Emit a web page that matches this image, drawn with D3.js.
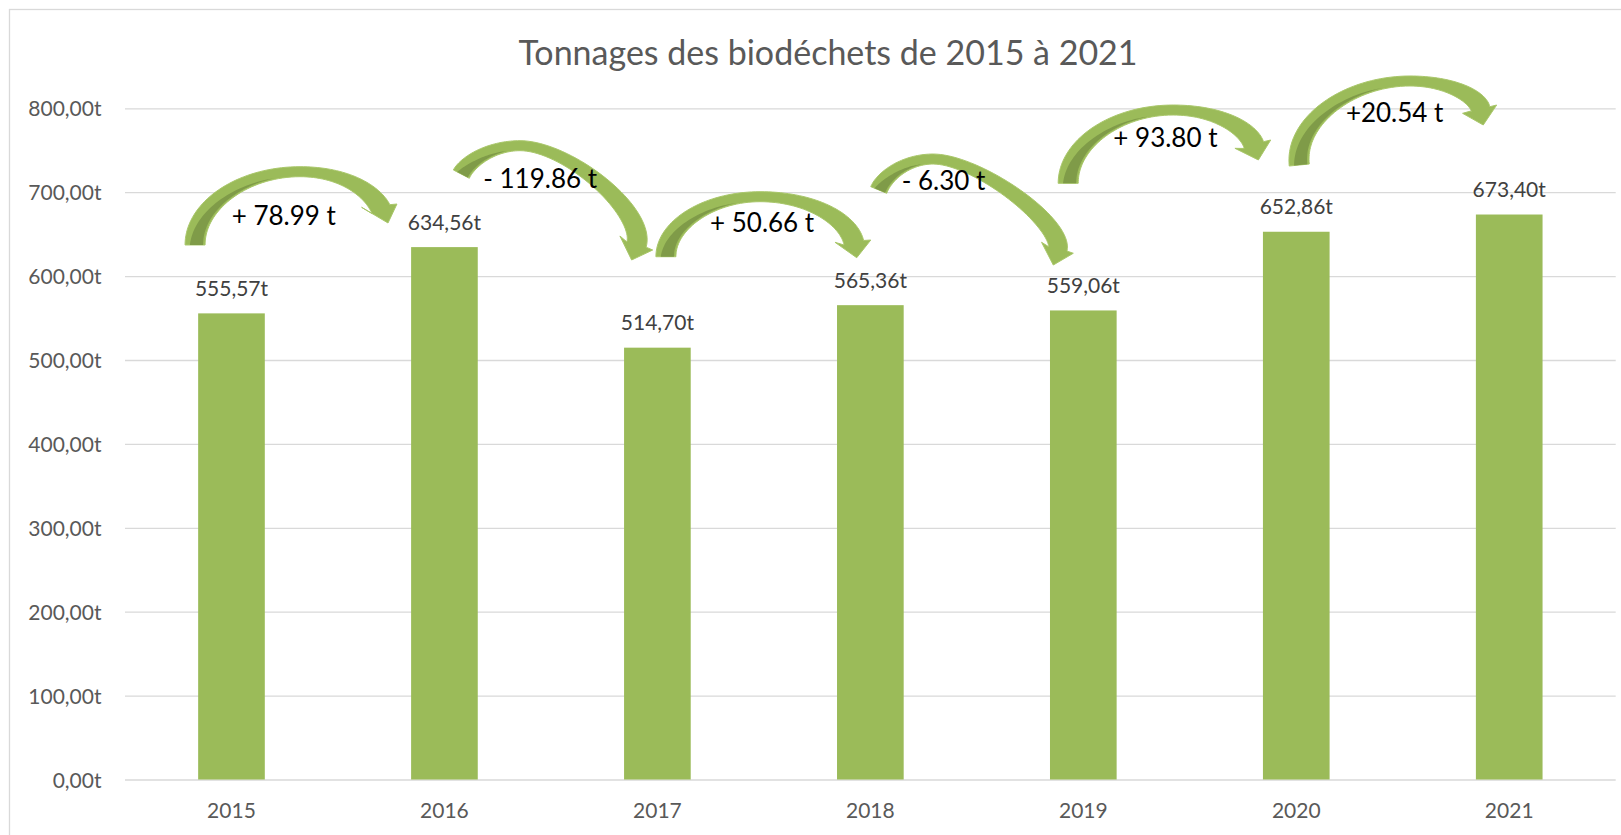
<!DOCTYPE html>
<html><head><meta charset="utf-8">
<script src="https://cdn.jsdelivr.net/npm/d3@7"></script>
<style>html,body{margin:0;padding:0;background:#fff;overflow:hidden}</style>
</head><body>
<svg id="chart" width="1621" height="835"></svg>
<script>
// ---- data ----
const title = "Tonnages des biodéchets de 2015 à 2021";
const years = ["2015","2016","2017","2018","2019","2020","2021"];
const tonnages = [555.57, 634.56, 514.70, 565.36, 559.06, 652.86, 673.40];
const valueLabels = ["555,57t","634,56t","514,70t","565,36t","559,06t","652,86t","673,40t"];
const yTicks = [0,100,200,300,400,500,600,700,800];
const yTickLabels = ["0,00t","100,00t","200,00t","300,00t","400,00t","500,00t","600,00t","700,00t","800,00t"];
const deltaLabels = ["+ 78.99 t","- 119.86 t","+ 50.66 t","- 6.30 t","+ 93.80 t","+20.54 t"];

// ---- annotation geometry, in chart units [category index, tonnes] ----
const arrowTailOuter = [[-0.218,637.1],[1.042,726.5],[1.993,623.1],[3.002,706.6],[3.882,710.6],[4.967,731.2]];
const arrowTailInner = [[-0.124,637.1],[1.117,716.6],[2.087,623.1],[3.077,698.7],[3.976,710.6],[5.061,733.6]];
const arrowApex      = [[0.322,730.4],[1.355,761.4],[2.482,700.6],[3.295,745.5],[4.422,803.9],[5.534,838.5]];
const arrowBarbIn    = [[0.611,682.0],[1.824,647.8],[2.834,640.3],[3.804,640.3],[4.712,752.3],[5.781,794.0]];
const arrowBarbOut   = [[0.777,685.9],[1.978,631.1],[3.002,643.0],[3.953,627.2],[4.880,762.2],[5.941,803.9]];
const arrowTip       = [[0.735,663.3],[1.879,619.2],[2.936,621.9],[3.859,613.2],[4.822,738.4],[5.878,780.1]];
const arrowBend      = [[0.55,0.55],[0.5,0.4],[0.55,0.55],[0.5,0.35],[0.55,0.55],[0.55,0.55]];
const deltaLabelPos  = [[0.001,660.9],[1.182,704.6],[2.247,652.9],[3.147,702.6],[4.141,753.5],[5.233,784.0]];

// ---- layout ----
const W = 1621, H = 835;
const plotLeft = 125, plotRight = 1615.7, plotBottom = 779.5, plotTop = 108.3;
const FONT = "Lato, 'Open Sans', sans-serif";
const BAR = "#9BBB59", DARK = "#7F9B48", GRID = "#d9d9d9";

const svg = d3.select("#chart");
svg.append("rect").attr("width",W).attr("height",H).attr("fill","#fff");
svg.append("rect").attr("x",9.5).attr("y",9.5).attr("width",W+20).attr("height",H+20)
  .attr("fill","none").attr("stroke",GRID).attr("stroke-width",1.3);

const x = d3.scaleBand().domain(years).range([plotLeft, plotRight])
  .paddingInner(0.687).paddingOuter(0.3435);
const y = d3.scaleLinear().domain([0,800]).range([plotBottom, plotTop]);

// y axis + gridlines
const yAxis = svg.append("g").attr("transform",`translate(${plotLeft},0)`)
  .call(d3.axisLeft(y).tickValues(yTicks).tickFormat((d,i)=>yTickLabels[i])
    .tickSize(-(plotRight-plotLeft)).tickPadding(23.5));
yAxis.select(".domain").remove();
yAxis.selectAll(".tick line").attr("stroke",GRID).attr("stroke-width",1.3);
yAxis.selectAll(".tick text").attr("fill","#595959").attr("font-family",FONT)
  .attr("font-size",21).attr("dy","0.36em");

// x axis
const xAxis = svg.append("g").attr("transform",`translate(0,${plotBottom})`)
  .call(d3.axisBottom(x).tickSize(0));
xAxis.select(".domain").remove();
xAxis.selectAll(".tick text").attr("fill","#595959").attr("font-family",FONT)
  .attr("font-size",21).attr("y",38.5).attr("dy",0);

// bars
svg.append("g").selectAll("rect").data(tonnages).join("rect")
  .attr("x",(d,i)=>x(years[i])).attr("width",x.bandwidth())
  .attr("y",d=>y(d)).attr("height",d=>y(0)-y(d)).attr("fill",BAR);

// value labels
svg.append("g").selectAll("text").data(tonnages).join("text")
  .attr("x",(d,i)=>x(years[i])+x.bandwidth()/2).attr("y",d=>y(d)-17.6)
  .attr("text-anchor","middle").attr("font-family",FONT).attr("font-size",21)
  .attr("fill","#404040").text((d,i)=>valueLabels[i]);

// title
svg.append("text").attr("x",828).attr("y",65).attr("text-anchor","middle")
  .attr("font-family",FONT).attr("font-size",34).attr("fill","#595959").text(title);

// ---- curved arrows ----
const xc = u => x(years[0]) + x.bandwidth()/2 + u*x.step();
const P = d => [xc(d[0]), y(d[1])];
const norm = v => { const l = Math.hypot(v[0],v[1]); return [v[0]/l, v[1]/l]; };
const lerp = (a,b,t) => [a[0]+(b[0]-a[0])*t, a[1]+(b[1]-a[1])*t];
const dist = (a,b) => Math.hypot(a[0]-b[0], a[1]-b[1]);
const smooth = t => t*t*(3-2*t);
function cubicPt(s,u){
  const a=(1-u)**3, b=3*(1-u)**2*u, c=3*(1-u)*u*u, d=u**3;
  return [a*s[0][0]+b*s[1][0]+c*s[2][0]+d*s[3][0], a*s[0][1]+b*s[1][1]+c*s[2][1]+d*s[3][1]];
}
function twoSeg(start, sdir, apex, end, edir, k1, k2){
  const h1 = Math.abs(start[1]-apex[1]), h2 = Math.abs(end[1]-apex[1]);
  const s1 = [start, [start[0]+sdir[0]*k1*h1, start[1]+sdir[1]*k1*h1], [apex[0]-k1*(apex[0]-start[0]), apex[1]], apex];
  const s2 = [apex, [apex[0]+k2*(end[0]-apex[0]), apex[1]], [end[0]-edir[0]*k2*h2, end[1]-edir[1]*k2*h2], end];
  return t => t<0.5 ? cubicPt(s1,t*2) : cubicPt(s2,t*2-1);
}
const line = d3.line().curve(d3.curveLinear);
const ag = svg.append("g");
deltaLabels.forEach((lab,i)=>{
  const TO=P(arrowTailOuter[i]), TI=P(arrowTailInner[i]), A=P(arrowApex[i]);
  const B1=P(arrowBarbIn[i]), B2=P(arrowBarbOut[i]), T=P(arrowTip[i]);
  const [k1,k2]=arrowBend[i];
  const e=[TI[0]-TO[0], TI[1]-TO[1]];
  const sdir=norm([e[1],-e[0]]);
  const mid=lerp(B1,B2,0.5);
  const edir=norm([T[0]-mid[0], T[1]-mid[1]]);
  const NO=lerp(B2,B1,0.2);
  const outerF=twoSeg(TO,sdir,A,NO,edir,k1,k2);
  const w0=dist(TI,TO), wTop=10, wEnd=0.56*dist(B1,B2);
  const N=80, outer=[], inner=[];
  for(let k=0;k<=N;k++){
    const t=k/N, p=outerF(t);
    let dv;
    if(k===0) dv=sdir; else if(k===N) dv=edir;
    else { const a=outerF(t-0.002), b=outerF(t+0.002); dv=norm([b[0]-a[0], b[1]-a[1]]); }
    const nrm=[-dv[1], dv[0]];
    const w = t<0.5 ? w0+(wTop-w0)*smooth(t/0.5) : wTop+(wEnd-wTop)*smooth((t-0.5)/0.5);
    outer.push(p); inner.push([p[0]+nrm[0]*w, p[1]+nrm[1]*w]);
  }
  inner[0]=TI;
  const body=[...outer, B2, T, B1, ...inner.slice().reverse()];
  ag.append("path").attr("d",line(body)+"Z").attr("fill",BAR)
    .attr("stroke","#a9c76a").attr("stroke-width",1).attr("stroke-linejoin","round");
  // darker inner face
  const kEnd=Math.round(N*0.42), p1=[], p2=[];
  for(let k=0;k<=kEnd;k++){
    const t=k/kEnd;
    p1.push(lerp(inner[k],outer[k],0.1));
    p2.push(lerp(inner[k],outer[k],0.1+0.66*Math.pow(1-t,0.9)));
  }
  ag.append("path").attr("d",line([...p2, ...p1.reverse()])+"Z").attr("fill",DARK);
  const L=P(deltaLabelPos[i]);
  ag.append("text").attr("x",L[0]).attr("y",L[1]).attr("font-family",FONT).attr("font-size",26)
    .attr("fill","#000").text(lab);
});
</script>
</body></html>
